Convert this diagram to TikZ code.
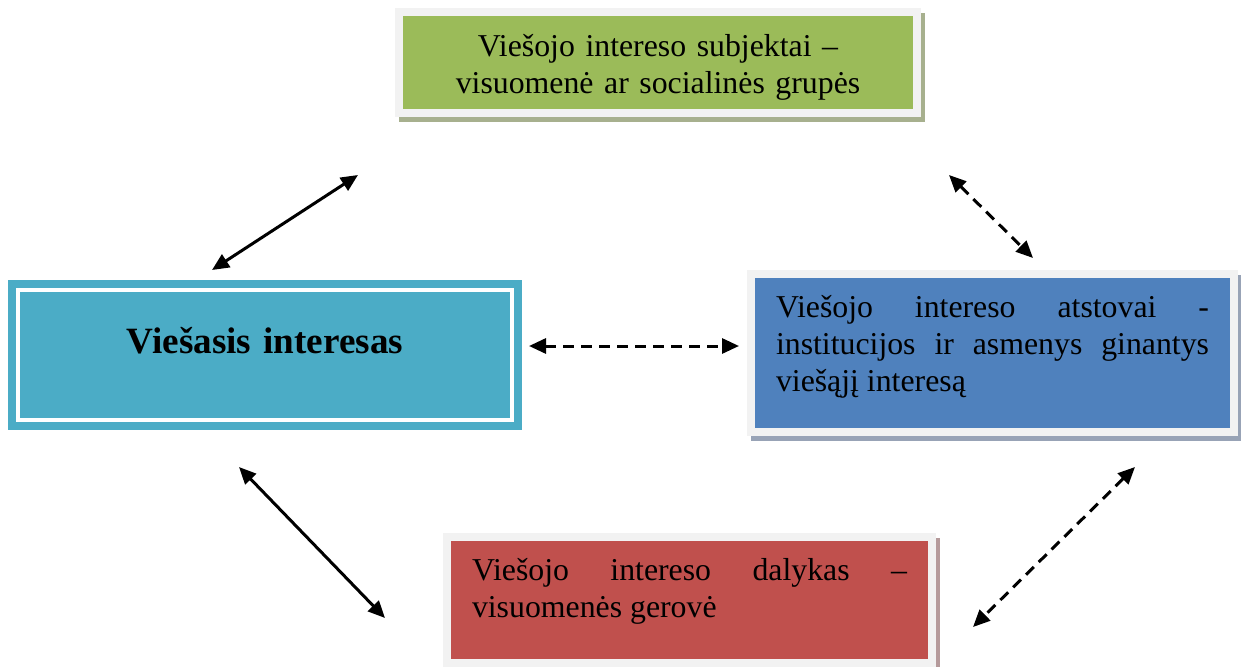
\documentclass[tikz,border=0pt]{standalone}
\usepackage{fontspec}
\setmainfont{Liberation Serif}
\usetikzlibrary{arrows.meta,shadows}
\definecolor{zalia}{HTML}{9BBB59}
\definecolor{melyna}{HTML}{4F81BD}
\definecolor{raudona}{HTML}{C0504D}
\definecolor{zydra}{HTML}{4BACC6}
\definecolor{remas}{HTML}{F2F2F2}
\definecolor{seselisZ}{HTML}{A7B08E}
\definecolor{seselisM}{HTML}{98A3B6}
\definecolor{seselisR}{HTML}{B59A9B}

\begin{document}
\begin{tikzpicture}[x=1pt,y=-1pt,>={Triangle[length=17pt,width=15pt]},
    box/.style={rectangle,draw=remas,line width=8pt,outer sep=0pt,inner ysep=0pt,
      font=\fontsize{31.8}{37}\selectfont},
    shadow box/.style={box,drop shadow={shadow xshift=4pt,shadow yshift=-5pt,
      fill=#1,draw=#1,line width=8pt,opacity=1}},
    solid line/.style={line width=3pt},
    dash line/.style={line width=3pt,dash pattern=on 11pt off 7pt}]

  \useasboundingbox (0,0) rectangle (1241,666);

  % blokai
  \node[rectangle,fill=zydra,draw=zydra,double=white,double distance=3.5pt,line width=8pt,
        outer sep=0pt,inner xsep=20pt,inner ysep=0pt,text width=454pt,align=center,
        text height=63pt,text depth=67pt,font=\fontsize{37.1}{43}\selectfont\bfseries]
        (vi) at (265,355) {Viešasis interesas};
  \node[shadow box=seselisZ,fill=zalia,inner xsep=20pt,text width=478pt,align=center,
        text height=45pt,text depth=56pt]
        (subj) at (658,62.5) {Viešojo intereso subjektai –\\visuomenė ar socialinės grupės};
  \node[shadow box=seselisM,fill=melyna,inner xsep=25pt,text width=433pt,align=justify,
        text height=43pt,text depth=115pt]
        (atst) at (992.5,353) {Viešojo intereso atstovai -\linebreak institucijos ir asmenys ginantys\linebreak viešąjį interesą};
  \node[shadow box=seselisR,fill=raudona,inner xsep=25pt,text width=435pt,align=justify,
        text height=43pt,text depth=83pt]
        (dal) at (689.5,600) {Viešojo intereso dalykas –\linebreak visuomenės gerovė};

  % rodykliu galai
  \coordinate (a1) at ([shift={(-53,-20)}]vi.north);
  \coordinate (a2) at ([shift={(-41,62)}]subj.south west);
  \coordinate (b1) at ([shift={(17,-9)}]vi.east);
  \coordinate (b2) at ([shift={(-12,-7)}]atst.west);
  \coordinate (c1) at ([shift={(32,62)}]subj.south east);
  \coordinate (c2) at ([shift={(40.5,-16)}]atst.north);
  \coordinate (d1) at ([shift={(-99,35)}]atst.south east);
  \coordinate (d2) at ([shift={(41,90)}]dal.north east);
  \coordinate (e1) at ([shift={(-26,47)}]vi.south);
  \coordinate (e2) at ([shift={(-62,81)}]dal.north west);

  \path[<->]
    (a1) edge[solid line] (a2)
    (b1) edge[dash line] (b2)
    (c1) edge[dash line] (c2)
    (d1) edge[dash line] (d2)
    (e1) edge[solid line] (e2);
\end{tikzpicture}
\end{document}
